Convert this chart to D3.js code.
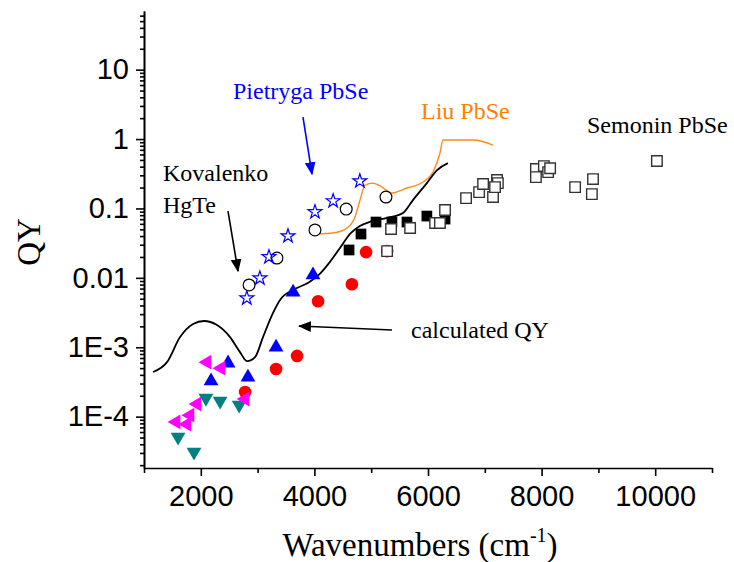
<!DOCTYPE html>
<html>
<head>
<meta charset="utf-8">
<script src="https://cdn.jsdelivr.net/npm/d3@7"></script>
<style>
    body { margin: 0; background: #fff; }
    svg { display: block; }
</style>
</head>
<body>
<div id="chart"></div>
<script>
// QY vs wavenumber plot, redrawn with d3 (log y axis)
var WIDTH = 734,
    HEIGHT = 562;

// axis ticks
var xTicks = [1000, 2000, 3000, 4000, 5000, 6000, 7000, 8000, 9000, 10000, 11000];
var xTickLabels = ['', '2000', '', '4000', '', '6000', '', '8000', '', '10000', ''];
var yTicks = [1e-4, 1e-3, 0.01, 0.1, 1, 10];
var yTickLabels = ['1E-4', '1E-3', '0.01', '0.1', '1', '10'];

// calculated QY (black line)
var calcX = [1160, 1405, 1635, 1865, 2055, 2285, 2515, 2690, 2815, 2955, 3095, 3270, 3395, 3625, 3900, 4100, 4250, 4450, 4640, 4800, 5000, 5280, 5560, 5735, 5980, 6160, 6350];
var calcY = [4.4e-4, 6.1e-4, 1.4e-3, 2.16e-3, 2.39e-3, 2.09e-3, 1.4e-3, 8.5e-4, 6.3e-4, 7.2e-4, 1.4e-3, 3.1e-3, 4.8e-3, 6.7e-3, 8.6e-3, 0.0115, 0.016, 0.027, 0.044, 0.056, 0.065, 0.073, 0.086, 0.132, 0.232, 0.357, 0.45];

// Liu PbSe (orange line)
var liuX = [4046, 4327, 4574, 4715, 4803, 4891, 5032, 5190, 5366, 5630, 5912, 6088, 6211, 6264, 6792, 7144];
var liuY = [0.0428, 0.0442, 0.052, 0.075, 0.132, 0.217, 0.232, 0.203, 0.167, 0.197, 0.24, 0.334, 0.629, 0.97, 0.97, 0.82];

// Pietryga PbSe (open blue stars)
var starX = [2810, 3040, 3200, 3535, 4010, 4330, 4800];
var starY = [5.1e-3, 9.9e-3, 0.02, 0.04, 0.089, 0.128, 0.248];

// open circles
var openCircleX = [2850, 3340, 4010, 4560, 5260];
var openCircleY = [7.9e-3, 0.0193, 0.049, 0.098, 0.146];

// filled black squares
var filledSquareX = [4610, 4820, 5085, 5365, 5630, 5980, 6300];
var filledSquareY = [0.0252, 0.0428, 0.0637, 0.0637, 0.0637, 0.0777, 0.0703];

// Semonin PbSe (open squares)
var openSquareX = [5280, 5350, 5685, 6125, 6210, 6300, 6670, 6900, 6970, 7145, 7215, 7230, 7180, 7900, 7900, 8040, 8115, 8150, 8590, 8905, 8885, 10030];
var openSquareY = [0.0243, 0.0505, 0.0522, 0.0617, 0.0617, 0.0948, 0.141, 0.172, 0.225, 0.146, 0.257, 0.232, 0.203, 0.37, 0.283, 0.408, 0.334, 0.38, 0.203, 0.265, 0.161, 0.482];

// red filled circles
var redX = [2780, 3325, 3695, 4065, 4660, 4910, 5280];
var redY = [2.26e-4, 4.85e-4, 7.5e-4, 4.6e-3, 8.1e-3, 0.0235, 0.0243];

// blue up triangles
var blueTriX = [2180, 2480, 2830, 3325, 3625, 3975];
var blueTriY = [3.26e-4, 5.9e-4, 3.7e-4, 1.0e-3, 6.2e-3, 0.011];

// magenta left triangles
var magentaX = [1565, 1755, 1810, 1935, 2110, 2355, 2780];
var magentaY = [8.4e-5, 7.8e-5, 1.05e-4, 1.52e-4, 6.1e-4, 5.0e-4, 1.79e-4];

// teal down triangles
var tealX = [1600, 1880, 2090, 2340, 2675];
var tealY = [5.1e-5, 3.1e-5, 1.85e-4, 1.68e-4, 1.47e-4];

// annotations (data coords)
var labels = [
    {text: 'Pietryga PbSe', x: 2567, y: 3.77, color: '#0000ff'},
    {text: 'Liu PbSe', x: 5877, y: 1.94, color: '#ff8000'},
    {text: 'Semonin PbSe', x: 8799, y: 1.22, color: '#000'},
    {text: 'Kovalenko', x: 1335, y: 0.248, color: '#000'},
    {text: 'HgTe', x: 1335, y: 0.086, color: '#000'},
    {text: 'calculated QY', x: 5701, y: 1.36e-3, color: '#000'}
];
var arrows = [
    {x1: 3799, y1: 2.07, x2: 3958, y2: 0.313, color: '#0000ff', id: 'headBlue'},
    {x1: 2479, y1: 0.0918, x2: 2655, y2: 0.0125, color: '#000', id: 'headBlack'},
    {x1: 5366, y1: 1.77e-3, x2: 3729, y2: 2.02e-3, color: '#000', id: 'headBlack'}
];

function zip(xs, ys) {
    return xs.map(function(d, i) { return [d, ys[i]]; });
}

var svg = d3.select('#chart').append('svg').attr('width', WIDTH).attr('height', HEIGHT);

var x = d3.scaleLinear().domain([1000, 11000]).range([144, 712]);
var y = d3.scaleLog().domain([1.82e-5, 70]).range([468, 11]);

// arrow heads
var defs = svg.append('defs');
[['headBlue', '#0000ff'], ['headBlack', '#000']].forEach(function(m) {
    defs.append('marker')
        .attr('id', m[0])
        .attr('markerUnits', 'userSpaceOnUse')
        .attr('viewBox', '0 0 12 12')
        .attr('refX', 11).attr('refY', 6)
        .attr('markerWidth', 13).attr('markerHeight', 13)
        .attr('orient', 'auto')
        .append('path')
        .attr('d', 'M0,1 L12,6 L0,11 Z')
        .attr('fill', m[1]);
});

// x axis
var xAxis = d3.axisBottom(x)
    .tickValues(xTicks)
    .tickSize(8)
    .tickSizeOuter(0)
    .tickPadding(9)
    .tickFormat(function(d, i) { return xTickLabels[i]; });
var gx = svg.append('g').attr('transform', 'translate(0,468)').call(xAxis);
gx.selectAll('.tick line').attr('y2', function(d, i) { return xTickLabels[i] ? 8 : 5; });

// y axis: minor then major
var yMinor = [];
for (var e = -5; e <= 1; e++) {
    for (var k = 2; k <= 9; k++) {
        var v = k * Math.pow(10, e);
        if (v > 1.82e-5 && v < 70) yMinor.push(v);
    }
}
svg.append('g').attr('transform', 'translate(144,0)')
    .call(d3.axisLeft(y).tickValues(yMinor).tickSize(4).tickSizeOuter(0).tickFormat(''));
var gy = svg.append('g').attr('transform', 'translate(144,0)')
    .call(d3.axisLeft(y).tickValues(yTicks).tickSize(8).tickSizeOuter(0).tickPadding(7)
        .tickFormat(function(d, i) { return yTickLabels[i]; }));

svg.selectAll('.domain, .tick line').attr('stroke', '#000').attr('stroke-width', 1.6);
svg.selectAll('.tick text')
    .attr('font-family', 'Liberation Sans, Arial, sans-serif')
    .attr('font-size', 29)
    .attr('fill', '#000');

// axis titles
svg.append('text')
    .attr('x', 420).attr('y', 556)
    .attr('text-anchor', 'middle')
    .attr('font-family', 'Liberation Serif, serif')
    .attr('font-size', 33)
    .html('Wavenumbers (cm<tspan dy="-14" font-size="20">-1</tspan><tspan dy="14">)</tspan>');
svg.append('text')
    .attr('transform', 'translate(40,242) rotate(-90)')
    .attr('text-anchor', 'middle')
    .attr('font-family', 'Liberation Serif, serif')
    .attr('font-size', 33)
    .text('QY');

// lines
var line = d3.line()
    .x(function(d) { return x(d[0]); })
    .y(function(d) { return y(d[1]); })
    .curve(d3.curveMonotoneX);

svg.append('path').datum(zip(liuX, liuY))
    .attr('d', line).attr('fill', 'none').attr('stroke', '#ff8a1c').attr('stroke-width', 1.4);
svg.append('path').datum(zip(calcX, calcY))
    .attr('d', line).attr('fill', 'none').attr('stroke', '#000').attr('stroke-width', 1.8);

// scatter series
function drawSymbols(data, type, size, rot, fill, stroke, sw) {
    svg.append('g').selectAll('path').data(data).enter().append('path')
        .attr('transform', function(d) { return 'translate(' + x(d[0]) + ',' + y(d[1]) + ') rotate(' + rot + ')'; })
        .attr('d', d3.symbol().type(type).size(size))
        .attr('fill', fill)
        .attr('stroke', stroke)
        .attr('stroke-width', sw);
}

drawSymbols(zip(redX, redY), d3.symbolCircle, 125, 0, '#ff0000', 'none', 0);
drawSymbols(zip(filledSquareX, filledSquareY), d3.symbolSquare, 115, 0, '#000', 'none', 0);
drawSymbols(zip(openSquareX, openSquareY), d3.symbolSquare, 110, 0, '#fff', '#333', 1.4);
drawSymbols(zip(openCircleX, openCircleY), d3.symbolCircle, 110, 0, '#fff', '#000', 1.2);
drawSymbols(zip(starX, starY), d3.symbolStar, 60, 0, 'none', '#0000ff', 1.2);
drawSymbols(zip(blueTriX, blueTriY), d3.symbolTriangle, 95, 0, '#0000ff', 'none', 0);
drawSymbols(zip(tealX, tealY), d3.symbolTriangle, 95, 180, '#008080', 'none', 0);
drawSymbols(zip(magentaX, magentaY), d3.symbolTriangle, 95, -90, '#ff00ff', 'none', 0);

// annotations
svg.append('g').selectAll('text').data(labels).enter().append('text')
    .attr('x', function(d) { return x(d.x); })
    .attr('y', function(d) { return y(d.y); })
    .attr('font-family', 'Liberation Serif, serif')
    .attr('font-size', 24)
    .attr('fill', function(d) { return d.color; })
    .text(function(d) { return d.text; });

svg.append('g').selectAll('line').data(arrows).enter().append('line')
    .attr('x1', function(d) { return x(d.x1); })
    .attr('y1', function(d) { return y(d.y1); })
    .attr('x2', function(d) { return x(d.x2); })
    .attr('y2', function(d) { return y(d.y2); })
    .attr('stroke', function(d) { return d.color; })
    .attr('stroke-width', 1.6)
    .attr('marker-end', function(d) { return 'url(#' + d.id + ')'; });
</script>
</body>
</html>
